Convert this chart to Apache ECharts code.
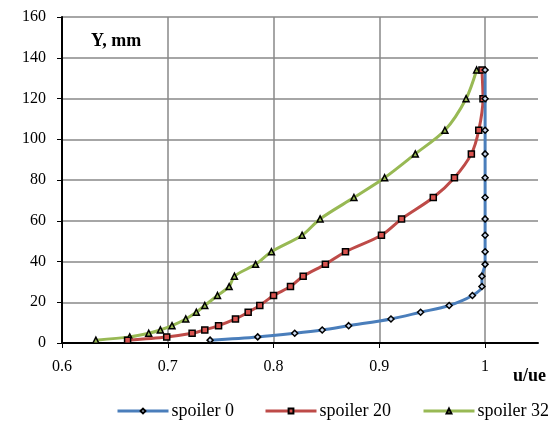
<!DOCTYPE html>
<html>
<head>
<meta charset="utf-8">
<script src="https://cdn.jsdelivr.net/npm/echarts@6/dist/echarts.min.js"></script>
<style>
  html, body { margin: 0; padding: 0; background: #fff; }
  #main { width: 560px; height: 424px; }
</style>
</head>
<body>
<div id="main"></div>
<script>
// Y stations, mm (shared by all three profiles)
var yStations = [1.4, 3.0, 4.8, 6.4, 8.5, 11.8, 15.1, 18.4, 23.3, 27.7, 32.8, 38.6, 44.8, 52.9, 60.9, 71.4, 81.1, 92.8, 104.4, 119.9, 134];

// u/ue for each spoiler
var spoiler0 = [0.740, 0.785, 0.820, 0.846, 0.871, 0.911, 0.939, 0.966, 0.988, 0.997, 0.997, 1.000, 1.000, 1.000, 1.000, 1.000, 1.000, 1.000, 1.000, 1.000, 1.000];
var spoiler20 = [0.662, 0.699, 0.723, 0.735, 0.748, 0.764, 0.776, 0.787, 0.800, 0.816, 0.828, 0.849, 0.868, 0.902, 0.921, 0.951, 0.971, 0.987, 0.994, 0.998, 0.997];
var spoiler32 = [0.632, 0.664, 0.682, 0.693, 0.704, 0.717, 0.727, 0.735, 0.747, 0.758, 0.763, 0.783, 0.798, 0.827, 0.844, 0.876, 0.905, 0.934, 0.962, 0.982, 0.992];

var seriesNames = ['spoiler 0', 'spoiler 20', 'spoiler 32'];

function pairs(xs) {
    return xs.map(function (x, i) { return [x, yStations[i]]; });
}

var chart = echarts.init(document.getElementById('main'));

var font = 'Liberation Serif';

// one legend per item so each sits where the original has it
var legendLefts = [111, 259, 417];
var legends = seriesNames.map(function (name, i) {
    return {
        left: legendLefts[i],
        top: 397,
        itemWidth: 51,
        itemHeight: 6,
        itemGap: 0,
        lineStyle: { width: 3 },
        textStyle: { fontFamily: font, fontSize: 18, color: '#000', padding: [0, 0, 0, -2] },
        data: [name]
    };
});

var option = {
    animation: false,
    title: [{
        text: 'Y, mm',
        left: 86,
        top: 27,
        textStyle: { fontFamily: font, fontSize: 18, fontWeight: 'bold', color: '#000' }
    }, {
        text: 'u/ue',
        left: 508,
        top: 362,
        textStyle: { fontFamily: font, fontSize: 18, fontWeight: 'bold', color: '#000' }
    }],
    grid: { left: 62, right: 22, top: 17, bottom: 81 },
    legend: legends,
    xAxis: {
        type: 'value',
        min: 0.6,
        max: 1.05,
        interval: 0.1,
        axisLine: { lineStyle: { color: '#000', width: 2 } },
        axisTick: { show: true, length: 5, lineStyle: { color: '#000', width: 1 } },
        axisLabel: {
            fontFamily: font, fontSize: 16, color: '#000', margin: 16,
            showMaxLabel: false,
            formatter: function (v) { return v > 1.001 ? '' : String(Math.round(v * 10) / 10); }
        },
        splitLine: { show: true, showMinLine: false, showMaxLine: false, lineStyle: { color: '#888', width: 1.5 } }
    },
    yAxis: {
        type: 'value',
        min: 0,
        max: 160,
        interval: 20,
        axisLine: { show: true, lineStyle: { color: '#000', width: 2 } },
        axisTick: { show: true, length: 5, lineStyle: { color: '#000', width: 1 } },
        axisLabel: { fontFamily: font, fontSize: 16, color: '#000', margin: 16 },
        splitLine: { show: true, showMinLine: false, lineStyle: { color: '#888', width: 1.5 } }
    },
    series: [{
        name: seriesNames[0],
        type: 'line',
        smooth: 0.3,
        symbol: 'diamond',
        symbolSize: 6,
        z: 4,
        lineStyle: { color: '#4A7EBB', width: 3 },
        itemStyle: { color: '#c9d8ee', borderColor: '#000', borderWidth: 1.5 },
        data: pairs(spoiler0)
    }, {
        name: seriesNames[1],
        type: 'line',
        smooth: 0.3,
        symbol: 'rect',
        symbolSize: 6,
        z: 3,
        lineStyle: { color: '#BE4B48', width: 3 },
        itemStyle: { color: '#d9534f', borderColor: '#000', borderWidth: 1.5 },
        data: pairs(spoiler20)
    }, {
        name: seriesNames[2],
        type: 'line',
        smooth: 0.3,
        symbol: 'triangle',
        symbolSize: 6,
        z: 2,
        lineStyle: { color: '#98B954', width: 3 },
        itemStyle: { color: '#98B954', borderColor: '#000', borderWidth: 1.5 },
        data: pairs(spoiler32)
    }]
};

chart.setOption(option);
</script>
</body>
</html>
